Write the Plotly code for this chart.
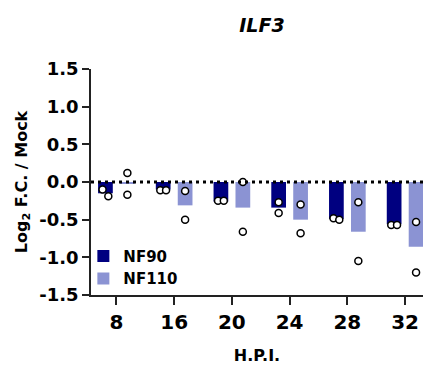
import plotly.graph_objects as go

# ---- data ----
CATEGORIES = ["8", "16", "20", "24", "28", "32"]
NF90_MEAN = [-0.15, -0.10, -0.26, -0.34, -0.49, -0.56]
NF110_MEAN = [-0.02, -0.31, -0.34, -0.50, -0.66, -0.86]
NF90_REP1 = [-0.10, -0.11, -0.25, -0.27, -0.48, -0.57]
NF90_REP2 = [-0.19, -0.11, -0.25, -0.41, -0.50, -0.57]
NF110_REP1 = [0.12, -0.12, 0.00, -0.30, -0.27, -0.53]
NF110_REP2 = [-0.17, -0.50, -0.66, -0.68, -1.05, -1.20]
Y_TICK_VALUES = [-1.5, -1.0, -0.5, 0.0, 0.5, 1.0, 1.5]
Y_TICK_LABELS = ["-1.5", "-1.0", "-0.5", "0.0", "0.5", "1.0", "1.5"]

# ---- style ----
NAVY = "#000080"
LAV = "#8b93d3"
FONT = "DejaVu Sans, Liberation Sans, Arial, sans-serif"
OFFSET = 0.19
BAR_W = 0.255
JIT = 0.05

idx = list(range(len(CATEGORIES)))

fig = go.Figure()
fig.add_trace(go.Bar(x=[i - OFFSET for i in idx], y=NF90_MEAN, width=BAR_W,
                     marker=dict(color=NAVY, line=dict(width=0)), name="NF90"))
fig.add_trace(go.Bar(x=[i + OFFSET for i in idx], y=NF110_MEAN, width=BAR_W,
                     marker=dict(color=LAV, line=dict(width=0)), name="NF110"))


def add_points(center_off, r1, r2):
    xs, ys = [], []
    for i, (a, b) in enumerate(zip(r1, r2)):
        c = i + center_off
        if abs(a - b) < 0.12:
            hi, lo = max(a, b), min(a, b)
            xs += [c - JIT, c + JIT]
            ys += [hi, lo]
        else:
            xs += [c, c]
            ys += [a, b]
    fig.add_trace(go.Scatter(x=xs, y=ys, mode="markers", showlegend=False,
                             marker=dict(symbol="circle", size=7, color="white",
                                         line=dict(color="black", width=1.5))))


add_points(-OFFSET, NF90_REP1, NF90_REP2)
add_points(OFFSET, NF110_REP1, NF110_REP2)

fig.add_shape(type="line", xref="paper", x0=0, x1=1, yref="y", y0=0, y1=0,
              line=dict(color="black", width=3, dash="3px,4px"), layer="above")

fig.update_layout(
    width=423, height=365,
    margin=dict(l=91, r=0, t=69, b=70),
    plot_bgcolor="white", paper_bgcolor="white",
    barmode="overlay",
    font=dict(family=FONT, color="black"),
    title=dict(text="ILF3", x=262 / 423, xanchor="center", y=1 - 25 / 365,
               yanchor="middle", yref="container",
               font=dict(size=19, weight="bold", style="italic", family=FONT)),
    legend=dict(x=-0.023, y=0.245, xanchor="left", yanchor="top",
                bgcolor="rgba(0,0,0,0)",
                font=dict(size=15, weight="bold", family=FONT)),
    xaxis=dict(range=[-0.44, 5.31], tickvals=idx, ticktext=CATEGORIES,
               showline=True, linecolor="#222", linewidth=1.5,
               ticks="outside", ticklen=8, tickwidth=1.5, tickcolor="#222",
               showgrid=False, zeroline=False,
               tickfont=dict(size=20, weight="bold", family=FONT),
               title=dict(text="H.P.I.", standoff=20,
                          font=dict(size=16, weight="bold", family=FONT))),
    yaxis=dict(range=[-1.5, 1.5], tickvals=Y_TICK_VALUES, ticktext=Y_TICK_LABELS,
               showline=True, linecolor="#222", linewidth=1.5,
               ticks="outside", ticklen=7, tickwidth=1.5, tickcolor="#222",
               showgrid=False, zeroline=False,
               tickfont=dict(size=18, weight="bold", family=FONT),
               title=dict(text="Log<sub>2</sub> F.C. / Mock", standoff=8,
                          font=dict(size=16, weight="bold", family=FONT))),
)

fig.write_html("out.html", config={"displayModeBar": False},
               post_script="document.body.style.margin='0';")
